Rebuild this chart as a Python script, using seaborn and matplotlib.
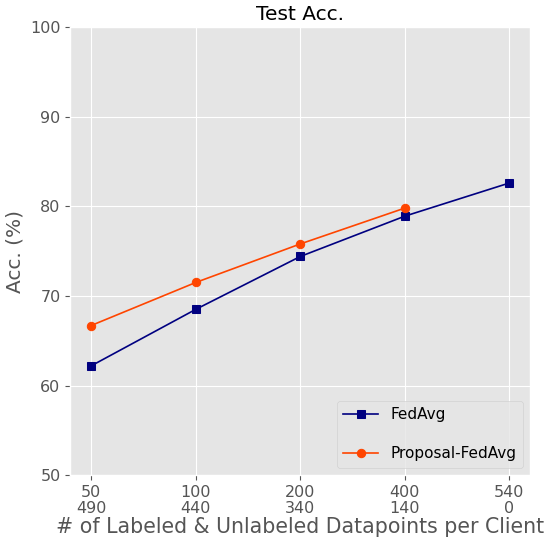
import matplotlib
matplotlib.use("Agg")
import matplotlib.pyplot as plt
import seaborn as sns
import pandas as pd

plt.style.use("ggplot")

tick_labels = ["50\n490", "100\n440", "200\n340", "400\n140", "540\n0"]
fedavg = [62.2, 68.5, 74.4, 78.9, 82.6]
proposal = [66.7, 71.5, 75.8, 79.8]

df1 = pd.DataFrame({"x": list(range(len(fedavg))), "y": fedavg})
df2 = pd.DataFrame({"x": list(range(len(proposal))), "y": proposal})

fig, ax = plt.subplots(figsize=(5.49, 5.40), dpi=100)
sns.lineplot(data=df1, x="x", y="y", ax=ax, color="navy", marker="s", markersize=6,
             markeredgecolor="navy", linewidth=1.2, label="FedAvg")
sns.lineplot(data=df2, x="x", y="y", ax=ax, color="orangered", marker="o", markersize=6,
             markeredgecolor="orangered", linewidth=1.2, label="Proposal-FedAvg")

ax.set_xlim(-0.2, 4.2)
ax.set_ylim(50, 100)
ax.set_xticks(range(len(tick_labels)))
ax.set_xticklabels(tick_labels, fontsize=11.5, linespacing=1.05)
ax.tick_params(axis="y", labelsize=11.5)
ax.set_title("Test Acc.", fontsize=14.5, color="black", pad=5)
ax.set_ylabel("Acc. (%)", fontsize=14.5)
ax.set_xlabel("# of Labeled & Unlabeled Datapoints per Client", fontsize=14.8, labelpad=1)
ax.legend(loc="lower right", fontsize=11, labelspacing=1.6, facecolor="#E5E5E5",
          handlelength=2.3)

fig.subplots_adjust(left=0.128, right=0.966, top=0.95, bottom=0.12)
fig.savefig("out.png", dpi=100)
